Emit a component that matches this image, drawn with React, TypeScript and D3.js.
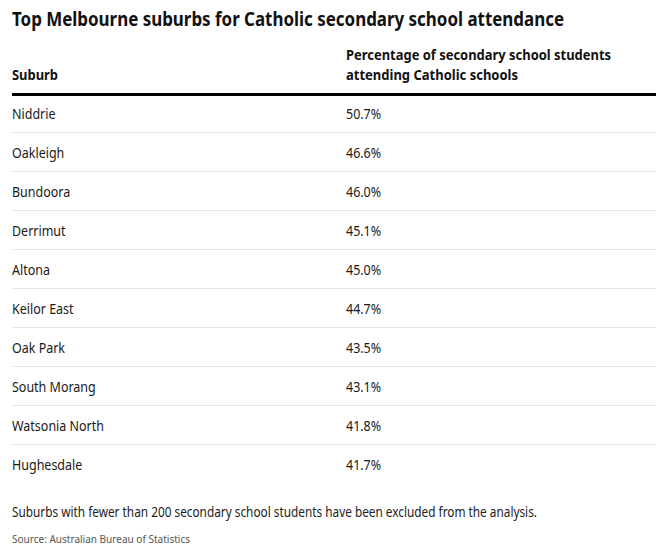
import React from "react";
import * as d3 from "d3";

const title = "Top Melbourne suburbs for Catholic secondary school attendance";
const headers = ["Suburb", "Percentage of secondary school students|attending Catholic schools"];
const suburbs = ["Niddrie", "Oakleigh", "Bundoora", "Derrimut", "Altona", "Keilor East", "Oak Park", "South Morang", "Watsonia North", "Hughesdale"];
const values = [50.7, 46.6, 46.0, 45.1, 45.0, 44.7, 43.5, 43.1, 41.8, 41.7];
const note = "Suburbs with fewer than 200 secondary school students have been excluded from the analysis.";
const source = "Source: Australian Bureau of Statistics";

const W = 662, H = 557;
const FAM = "'Noto Sans', sans-serif";

let ctx: CanvasRenderingContext2D | null = null;
function measure(t: string, size: number, weight = "normal") {
  if (!ctx) ctx = document.createElement("canvas").getContext("2d");
  if (!ctx) return t.length * size * 0.5;
  ctx.font = `${weight} ${size}px ${FAM}`;
  return ctx.measureText(t).width;
}

export default function App() {
  const x = d3.scaleOrdinal<string, number>().domain(["c0", "c1"]).range([12, 346]);
  const y = d3.scaleBand<string>().domain(suburbs).range([94, 94 + 39 * suburbs.length]).padding(0);
  const fmt = d3.format(".1f");
  const hdr2 = headers[1].split("|");
  const BODY = 13.5;
  // condensing ratio calibrated on a row label width from the reference
  const k = 92 / measure("Watsonia North", BODY);
  const HDR = 14.5;
  const kh = 46 / measure("Suburb", HDR, "bold");
  return (
    <div style={{ position: "absolute", left: 0, top: 0 }}>
      <svg width={W} height={H} style={{ display: "block", fontFamily: FAM }}>
        <rect width={W} height={H} fill="#fff" />
        <text x={12} y={26} fontSize={19.5} fontWeight="bold" fill="#111" textLength={552} lengthAdjust="spacingAndGlyphs">{title}</text>
        <text x={x("c0")} y={80} fontSize={HDR} fontWeight="bold" fill="#111" textLength={measure(headers[0], HDR, "bold") * kh} lengthAdjust="spacingAndGlyphs">{headers[0]}</text>
        {hdr2.map((t, i) => (
          <text key={i} x={x("c1")} y={60 + i * 20} fontSize={HDR} fontWeight="bold" fill="#111"
            textLength={i === 0 ? 265 : 172} lengthAdjust="spacingAndGlyphs">{t}</text>
        ))}
        <line x1={12} x2={656} y1={94.5} y2={94.5} stroke="#000" strokeWidth={3} />
        {suburbs.map((s, i) => {
          const y0 = y(s)!;
          const v = fmt(values[i]) + "%";
          return (
            <g key={s}>
              <text x={x("c0")} y={y0 + 25} fontSize={BODY} fill="#1a1a1a" textLength={measure(s, BODY) * k} lengthAdjust="spacingAndGlyphs">{s}</text>
              <text x={x("c1")} y={y0 + 25} fontSize={BODY} fill="#1a1a1a" textLength={measure(v, BODY) * k} lengthAdjust="spacingAndGlyphs">{v}</text>
              {i < suburbs.length - 1 && (
                <line x1={12} x2={656} y1={y0 + y.bandwidth() - 0.5} y2={y0 + y.bandwidth() - 0.5} stroke="#e5e5e5" strokeWidth={1} />
              )}
            </g>
          );
        })}
        <text x={12} y={517} fontSize={13.5} fill="#222" textLength={525} lengthAdjust="spacingAndGlyphs">{note}</text>
        <text x={12} y={543} fontSize={11} fill="#555" textLength={178} lengthAdjust="spacingAndGlyphs">{source}</text>
      </svg>
    </div>
  );
}
